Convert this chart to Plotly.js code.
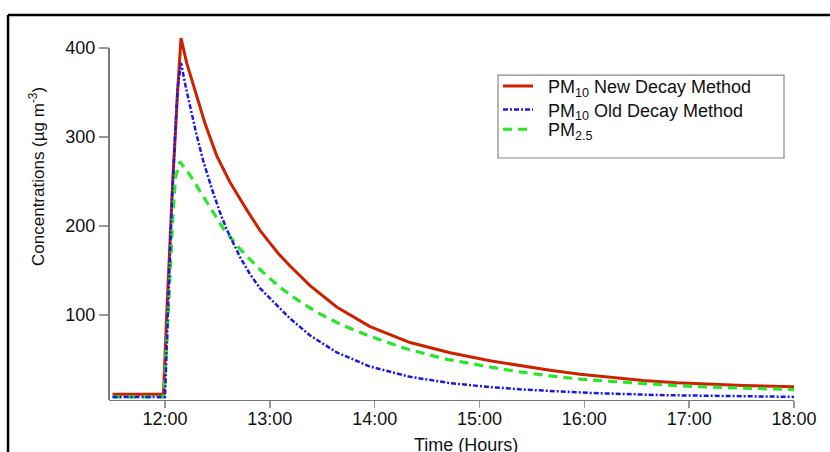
<!DOCTYPE html>
<html>
<head>
<meta charset="utf-8">
<script src="https://cdn.plot.ly/plotly-3.0.1.min.js"></script>
<style>
  html, body { margin: 0; padding: 0; background: #fff; }
  #chart { width: 830px; height: 452px; }
</style>
</head>
<body>
<div id="chart"></div>
<script>
// Time in decimal hours
var redHours = [11.5, 11.985, 12.02, 12.07, 12.12, 12.153, 12.207, 12.302, 12.382, 12.493, 12.62, 12.78, 12.906, 13.0, 13.081, 13.193, 13.384, 13.638, 13.956, 14.338, 14.719, 15.101, 15.387, 15.674, 15.96, 16.246, 16.561, 16.883, 17.2, 17.515, 18.0];
var redValues = [11, 11, 110, 240, 350, 411, 383, 347, 315, 279, 249, 218, 195, 181, 169, 155, 133, 109, 87, 69, 57.5, 48.5, 43, 38, 33.5, 30, 26.5, 24, 22, 20.8, 19.3];

var blueHours = [11.5, 12.0, 12.03, 12.07, 12.12, 12.153, 12.2, 12.239, 12.302, 12.365, 12.446, 12.525, 12.589, 12.716, 12.81, 12.906, 13.0, 13.081, 13.193, 13.384, 13.638, 13.956, 14.338, 14.719, 15.1, 15.451, 16.084, 16.723, 17.36, 18.0];
var blueValues = [8, 8, 110, 240, 355, 383, 355, 334, 302, 273, 242, 215, 196, 165, 146, 130, 119, 109, 96, 77, 58, 42, 30.5, 23.5, 19, 16, 12.3, 10, 8.8, 8];

var greenHours = [11.5, 11.99, 12.03, 12.07, 12.1, 12.143, 12.239, 12.365, 12.43, 12.493, 12.556, 12.716, 12.906, 13.0, 13.097, 13.224, 13.448, 13.701, 13.956, 14.274, 14.656, 15.101, 15.387, 15.674, 15.96, 16.246, 16.561, 16.883, 17.2, 17.515, 17.897, 18.0];
var greenValues = [8, 8, 100, 200, 255, 272, 257, 234, 221, 209, 197, 174, 151, 141, 131, 120, 103, 88, 76, 63, 51, 41.5, 36, 31.5, 28, 25.5, 22.8, 20.6, 19, 17.7, 16.5, 16.2];

var tickHours = [12, 13, 14, 15, 16, 17, 18];
var tickLabels = ["12:00", "13:00", "14:00", "15:00", "16:00", "17:00", "18:00"];
var yTicks = [100, 200, 300, 400];

var seriesNames = ["PM<sub>10</sub> New Decay Method", "PM<sub>10</sub> Old Decay Method", "PM<sub>2.5</sub>"];

var FONT = "Arial, 'Liberation Sans', sans-serif";
var PAD = "\u00A0\u00A0";

var traces = [
  { x: redHours, y: redValues, name: PAD + seriesNames[0], mode: "lines", legend: "legend",
    line: { color: "rgb(204,34,0)", width: 3 } },
  { x: greenHours, y: greenValues, name: PAD + seriesNames[2], mode: "lines", legend: "legend3",
    line: { color: "rgb(40,230,40)", width: 3.2, dash: "9px,6px" } },
  { x: blueHours, y: blueValues, name: PAD + seriesNames[1], mode: "lines", legend: "legend2",
    line: { color: "rgb(25,25,230)", width: 2.5, dash: "5px,2px,2px,2px" } }
];

function legendAt(yCenter) {
  return {
    x: 0.5679, y: yCenter, xanchor: "left", yanchor: "middle",
    bgcolor: "rgba(0,0,0,0)", borderwidth: 0,
    font: { family: FONT, size: 18, color: "#111" }
  };
}

var layout = {
  width: 830, height: 452,
  margin: { l: 109, r: 36, t: 30, b: 52 },
  paper_bgcolor: "#fff", plot_bgcolor: "#fff",
  font: { family: FONT, size: 18, color: "#111" },
  showlegend: true,
  legend: legendAt(0.848),
  legend2: legendAt(0.784),
  legend3: legendAt(0.731),
  xaxis: {
    range: [11.466, 18.0],
    tickmode: "array", tickvals: tickHours, ticktext: tickLabels,
    showgrid: false, zeroline: false,
    showline: true, linecolor: "#777", linewidth: 1.2,
    ticks: "outside", ticklen: 7, tickcolor: "#999", tickwidth: 1.5,
    ticklabelstandoff: -5,
    tickfont: { family: FONT, size: 18, color: "#111" }
  },
  yaxis: {
    range: [4.5, 420],
    tickmode: "array", tickvals: yTicks,
    showgrid: false, zeroline: false, showline: false,
    ticks: "outside", ticklen: 9, tickcolor: "#999", tickwidth: 1.5,
    tickfont: { family: FONT, size: 18, color: "#111" }
  },
  shapes: [
    { type: "line", xref: "paper", yref: "y", x0: 0, x1: 0, y0: 4.5, y1: 400,
      line: { color: "#222", width: 1.2 } },
    { type: "rect", xref: "paper", yref: "paper", x0: 0.5679, x1: 0.9854, y0: 0.654, y1: 0.878,
      line: { color: "#888", width: 1.2 }, fillcolor: "rgba(0,0,0,0)" },
    { type: "line", xref: "paper", yref: "paper", x0: -0.1474, x1: 1.2, y0: 1.0405, y1: 1.0405,
      line: { color: "#000", width: 2.5 } },
    { type: "line", xref: "paper", yref: "paper", x0: -0.1474, x1: -0.1474, y0: -0.3, y1: 1.0405,
      line: { color: "#000", width: 2.5 } }
  ],
  annotations: [
    { text: "Time (Hours)", xref: "paper", yref: "paper", x: 0.521, y: -0.1216,
      xanchor: "center", yanchor: "middle", showarrow: false,
      font: { family: FONT, size: 18, color: "#111" } },
    { text: "Concentrations (µg m<sup>-3</sup>)", xref: "paper", yref: "paper", x: -0.105, y: 0.603,
      xanchor: "center", yanchor: "middle", textangle: -90, showarrow: false,
      font: { family: FONT, size: 17, color: "#111" } }
  ]
};

Plotly.newPlot("chart", traces, layout, { displayModeBar: false, staticPlot: true });
</script>
</body>
</html>
